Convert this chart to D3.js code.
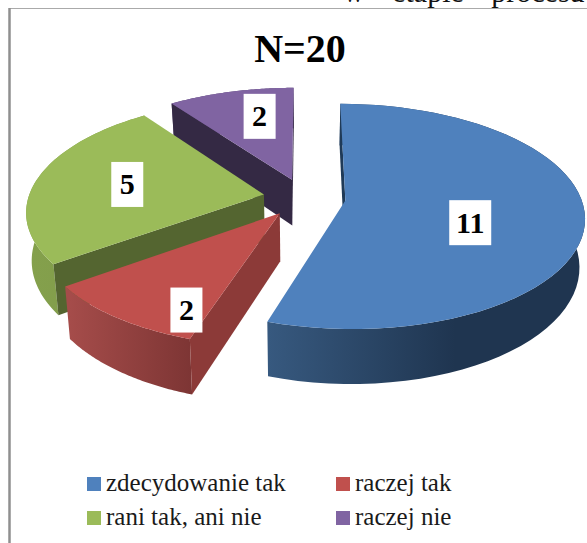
<!DOCTYPE html>
<html><head><meta charset="utf-8">
<script src="https://cdn.jsdelivr.net/npm/d3@7"></script>
<style>html,body{margin:0;padding:0;background:#fff}svg{display:block}</style>
</head><body><svg id="c" width="587" height="543"></svg>
<script>
const categories = ["zdecydowanie tak","raczej tak","rani tak, ani nie","raczej nie"];
const values = [11,2,5,2];
const topColors = ["#4f81bd","#c0504d","#9bbb59","#8064a2"];
const titleText = "N=20";
const clippedLine = "w etapie procesu";

const W=587,H=543;
const X0=304.5,Y0=197.5,R=235.5,TILT=0.465,PERSP=0.141,EXPLODE=0.175,DEPTH=47,BOTTOM=0.98;
const labelRadius=[.545,.827,.6,.68], labelAngle=[111,203.9,279,346.5];
const svg=d3.select("#c");
const defs=svg.append("defs");
const pie=d3.pie().sort(null)(values);

function proj(wx,wy,low){
  const s=1/(1-wy*PERSP);
  let x=X0+wx*s*R, y=Y0+wy*TILT*s*R;
  if(low){ x=X0+(x-X0)*BOTTOM; y=y+DEPTH*s; }
  return [x,y];
}
const rim=(d,a,r=1,low=false)=>{
  const m=(d.startAngle+d.endAngle)/2;
  return proj(EXPLODE*Math.sin(m)+r*Math.sin(a), -EXPLODE*Math.cos(m)-r*Math.cos(a), low);
};
const arcAngles=d=>d3.range(0,61).map(i=>d.startAngle+(d.endAngle-d.startAngle)*i/60);
const line=d3.line();
const cross=(o,a,b)=>(a[0]-o[0])*(b[1]-o[1])-(a[1]-o[1])*(b[0]-o[0]);

const frontStops=[
 [["0","#37597f"],["0.6","#1f3550"],["1","#1f3550"]],
 [["0","#a54c4a"],["1","#7d3534"]],
 [["0","#84a04c"],["1","#7f9a49"]],
 [["0","#5a4775"],["1","#5a4775"]]
];
const sideColors=["#1f3a57","#8c3a38","#546530","#342944"];
const order=[3,2,1,0];
order.forEach(i=>{
  const d=pie[i];
  const g=svg.append("g");
  const angles=arcAngles(d);
  const topPts=angles.map(a=>rim(d,a));
  const lowPts=angles.map(a=>rim(d,a,1,true));
  const xs=lowPts.map(p=>p[0]);
  const grad=defs.append("linearGradient").attr("id","w"+i).attr("gradientUnits","userSpaceOnUse")
    .attr("x1",d3.min(xs.concat(rim(d,d.endAngle,1,true)[0]))).attr("x2",d3.max(xs)).attr("y1",0).attr("y2",0);
  frontStops[i].forEach(s=>grad.append("stop").attr("offset",s[0]).attr("stop-color",s[1]));
  const apexT=rim(d,0,0), apexB=rim(d,0,0,true);
  const sT=rim(d,d.startAngle), sB=rim(d,d.startAngle,1,true);
  const eT=rim(d,d.endAngle), eB=rim(d,d.endAngle,1,true);
  g.append("path").attr("d",line(topPts.concat(lowPts.slice().reverse()))+"Z").attr("fill",`url(#w${i})`);
  if(cross(apexT,eT,eB)>0) g.append("path").attr("d",line([apexT,eT,eB,apexB])+"Z").attr("fill",sideColors[i]);
  if(cross(apexT,sT,sB)<0) g.append("path").attr("d",line([apexT,sT,sB,apexB])+"Z").attr("fill",sideColors[i]);
  g.append("path").attr("d",line([apexT].concat(topPts))+"Z").attr("fill",topColors[i]);
});

const serif="'Liberation Serif',serif";
pie.forEach((d,i)=>{
  const p=rim(d,labelAngle[i]*Math.PI/180,labelRadius[i]);
  const w=String(values[i]).length>1?42:32;
  svg.append("rect").attr("x",p[0]-w/2).attr("y",p[1]-22.5).attr("width",w).attr("height",45).attr("fill","#fff");
  svg.append("text").attr("x",p[0]).attr("y",p[1]+10).attr("text-anchor","middle")
    .attr("font-family",serif).attr("font-weight","bold").attr("font-size",30).attr("fill","#000").text(values[i]);
});

svg.append("text").attr("x",300).attr("y",62).attr("text-anchor","middle")
  .attr("font-family",serif).attr("font-weight","bold").attr("font-size",40).attr("fill","#000").text(titleText);

const legendX=[87,336], legendY=[477,511];
categories.forEach((c,i)=>{
  const x=legendX[i%2], y=legendY[i>>1];
  svg.append("rect").attr("x",x).attr("y",y).attr("width",14).attr("height",14).attr("fill",topColors[i]);
  svg.append("text").attr("x",x+19).attr("y",y+14).attr("font-family",serif).attr("font-size",25).attr("fill","#1a1a1a").text(c);
});

svg.append("text").attr("x",343).attr("y",1.5).attr("font-family",serif).attr("font-size",30)
  .attr("word-spacing",20).attr("fill","#111").text(clippedLine);
svg.append("line").attr("x1",9).attr("x2",W).attr("y1",8.5).attr("y2",8.5).attr("stroke","#aaa");
svg.append("line").attr("x1",9.5).attr("x2",9.5).attr("y1",8).attr("y2",H).attr("stroke","#8f8f8f").attr("stroke-width",2.5);
</script></body></html>
